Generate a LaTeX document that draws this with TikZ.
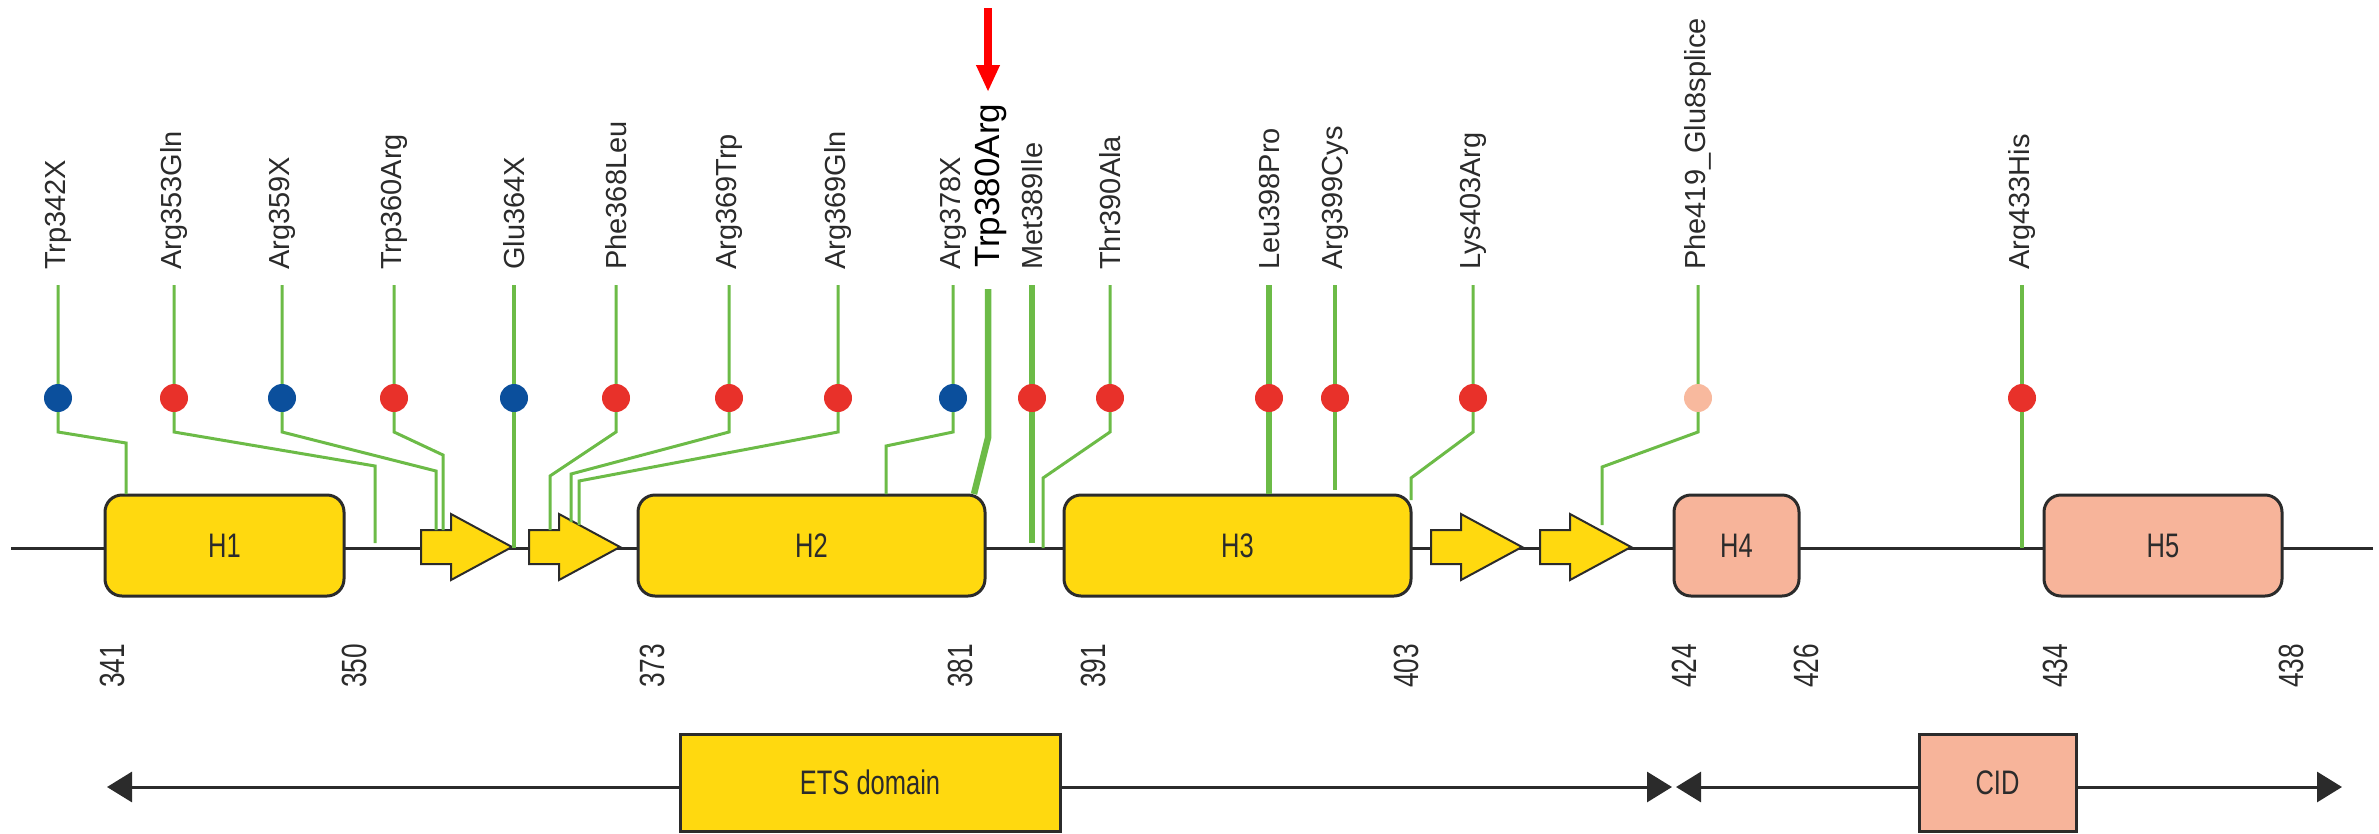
\documentclass[tikz,border=0pt]{standalone}
\usepackage{fontspec}
\setmainfont{Liberation Sans}
\newfontfamily\condf[FakeStretch=0.75]{Liberation Sans}
\usetikzlibrary{arrows.meta}
\definecolor{stemgreen}{HTML}{6CBB47}
\definecolor{dotblue}{HTML}{0B4F9C}
\definecolor{dotred}{HTML}{E8312A}
\definecolor{dotpink}{HTML}{F8B99E}
\definecolor{boxyellow}{HTML}{FFD90F}
\definecolor{boxsalmon}{HTML}{F7B49A}
\definecolor{ink}{HTML}{2B2B2B}
\begin{document}
\begin{tikzpicture}[x=1pt,y=-1pt,
  helix/.style={draw=ink, line width=3, rounded corners=17, inner sep=0, minimum height=101,
                font=\condf\fontsize{34}{36}\selectfont, text=ink},
  strand/.style={draw=ink, line width=2, fill=boxyellow, line join=miter},
  stem/.style={draw=stemgreen},
  dot/.style={circle, inner sep=0, minimum size=28, draw=none},
  mutlab/.style={rotate=90, anchor=west, inner sep=0, font=\fontsize{29}{31}\selectfont, text=ink},
  biglab/.style={rotate=90, anchor=west, inner sep=0, font=\fontsize{35}{37}\selectfont, text=black},
  numlab/.style={rotate=90, anchor=west, inner sep=0, font=\condf\fontsize{35}{37}\selectfont, text=ink},
  domainbox/.style={draw=ink, line width=3, inner sep=0, minimum height=97,
                 font=\condf\fontsize{34}{36}\selectfont, text=ink},
  dline/.style={draw=ink, line width=3, {Triangle[width=30,length=25]}-{Triangle[width=30,length=25]}}
]
\useasboundingbox (0,0) rectangle (2379,833);

% main line
\coordinate (m0) at (11,548);
\coordinate (m1) at (2373,548);
\draw[ink, line width=3] (m0) -- (m1);

% helices
\node[helix, fill=boxyellow, minimum width=239] (h1) at (224.5,545.5) {H1};
\node[helix, fill=boxyellow, minimum width=347] (h2) at (811.5,545.5) {H2};
\node[helix, fill=boxyellow, minimum width=347] (h3) at (1237.5,545.5) {H3};
\node[helix, fill=boxsalmon, minimum width=125] (h4) at (1736.5,545.5) {H4};
\node[helix, fill=boxsalmon, minimum width=238] (h5) at (2163,545.5) {H5};

% strands
\foreach \a in {421,529,1431,1540}{
  \draw[strand] (\a,530) -- ({\a+30},530) -- ({\a+30},514) -- ({\a+91},547)
     -- ({\a+30},580) -- ({\a+30},564) -- (\a,564) -- cycle;
}

% mutations
\foreach \i/\x/\c/\lab/\bx/\by/\ey/\w in {
 1/58/dotblue/Trp342X/126/443/494/3,
 2/174/dotred/Arg353Gln/375/466/543/3,
 3/282/dotblue/Arg359X/436/471/530/3,
 4/394/dotred/Trp360Arg/443/455/530/3,
 5/514/dotblue/Glu364X/514/432/548/3.5,
 6/616/dotred/Phe368Leu/550/476/530/3,
 7/729/dotred/Arg369Trp/571/474/522/3,
 8/838/dotred/Arg369Gln/579/481/525/3,
 9/953/dotblue/Arg378X/886/446/494/3,
 11/1032/dotred/Met389Ile/1032/432/543/6.5,
 12/1110/dotred/Thr390Ala/1043/478/548/3,
 13/1269/dotred/Leu398Pro/1269/432/494/6.5,
 14/1335/dotred/Arg399Cys/1335/432/490/4.5,
 15/1473/dotred/Lys403Arg/1411/478/500/3,
 16/1698/dotpink/Phe419\_Glu8splice/1602/467/525/3,
 17/2022/dotred/Arg433His/2022/432/548/4}{
  \node[mutlab] (l\i) at (\x,270) {\lab};
  \coordinate (s\i) at (\x,285);
  \coordinate (k\i) at (\x,432);
  \coordinate (b\i) at (\bx,\by);
  \coordinate (e\i) at (\bx,\ey);
  \draw[stem, line width=\w] (s\i) -- (k\i) -- (b\i) -- (e\i);
  \node[dot, fill=\c] (d\i) at (\x,398) {};
}

% Trp380Arg (highlighted)
\node[biglab] (l10) at (991,268) {Trp380Arg};
\coordinate (s10) at (988,289);
\coordinate (k10) at (988,438);
\coordinate (e10) at (974,494);
\draw[stem, line width=6.5] (s10) -- (k10) -- (e10);
\coordinate (ra) at (988,8);
\coordinate (rb) at (988,92);
\draw[red, line width=8, -{Triangle[width=22,length=27]}] (ra) -- (rb);

% residue numbers
\foreach \i/\x/\t in {a/112/341, b/354/350, c/652/373, d/960/381, e/1093/391,
                      f/1406/403, g/1684/424, h/1806/426, i/2055/434, j/2291/438}{
  \node[numlab] (n\i) at (\x,688) {\t};
}

% domains
\coordinate (ea) at (107,787);
\coordinate (eb) at (1672,787);
\coordinate (ca) at (1676,787);
\coordinate (cb) at (2342,787);
\draw[dline] (ea) -- (eb);
\draw[dline] (ca) -- (cb);
\node[domainbox, fill=boxyellow, minimum width=380] (ets) at (870,782.5) {ETS domain};
\node[domainbox, fill=boxsalmon, minimum width=157] (cid) at (1997.5,782.5) {CID};
\end{tikzpicture}
\end{document}
